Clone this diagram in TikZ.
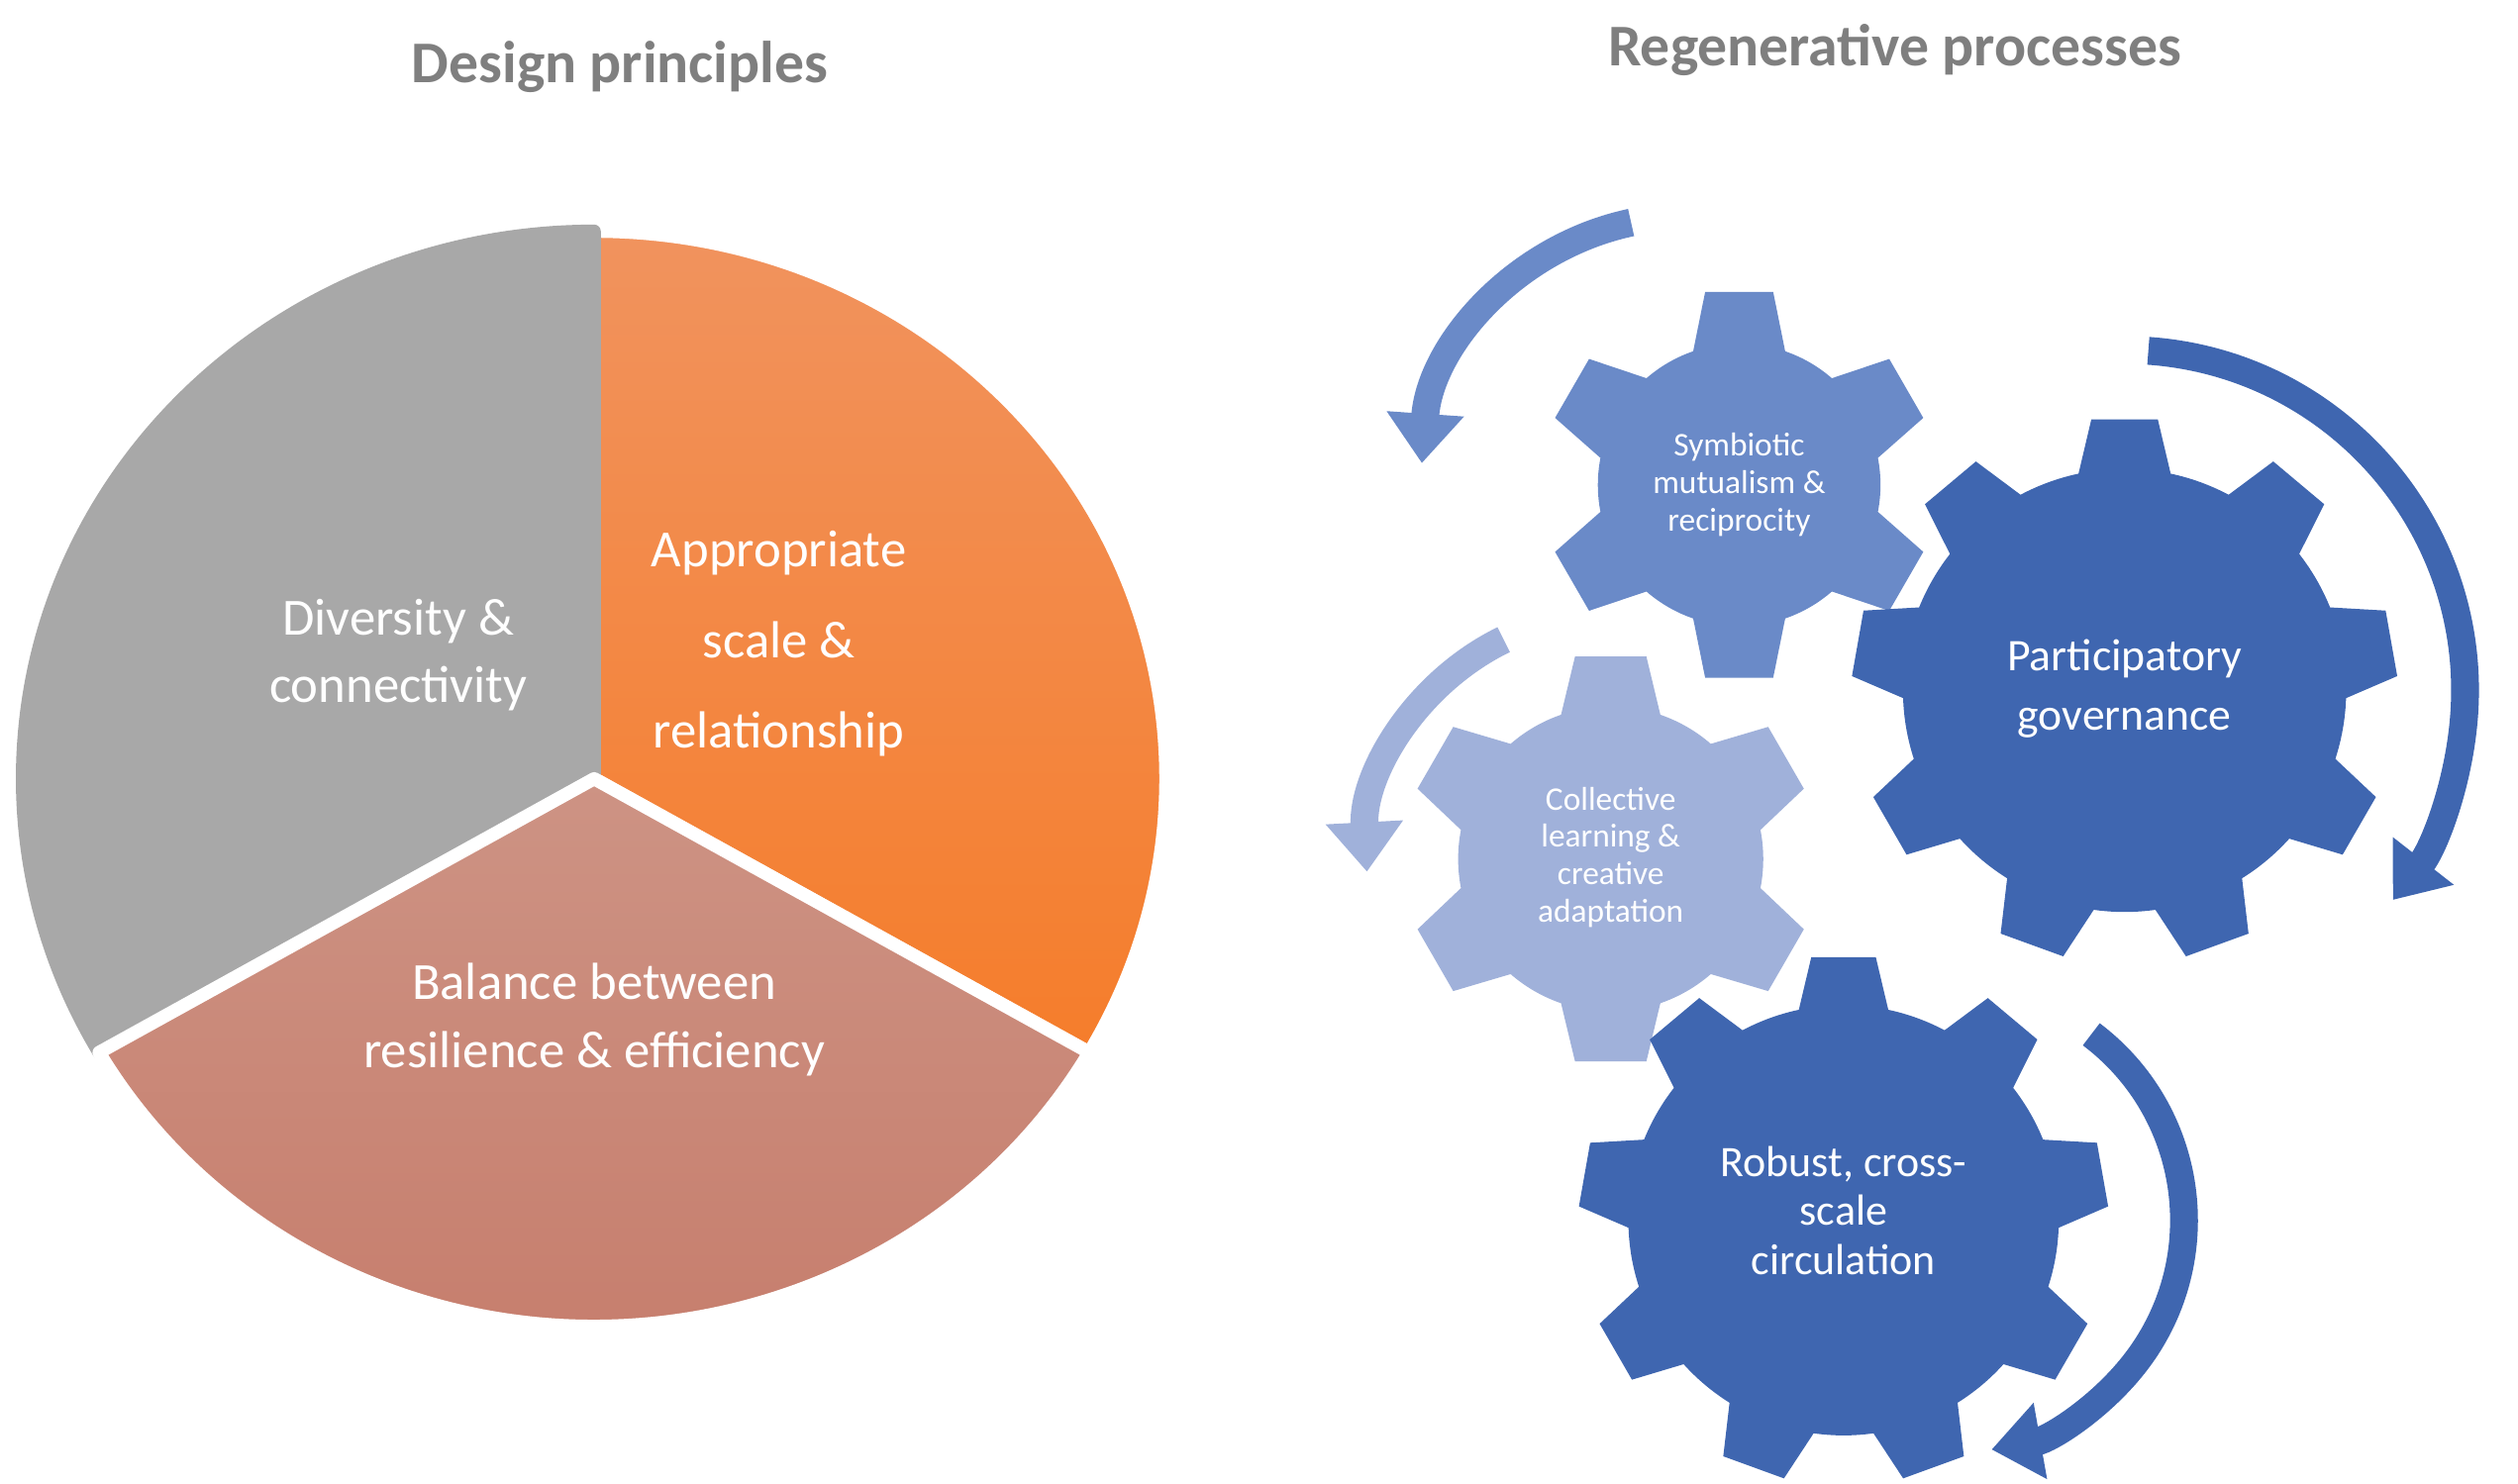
\documentclass[tikz,border=0pt]{standalone}
\usepackage{fontspec}
\setmainfont{Carlito}
\usetikzlibrary{arrows.meta}
\definecolor{piegray}{HTML}{A8A8A8}
\definecolor{orangetop}{HTML}{F1935E}
\definecolor{orangebot}{HTML}{F57D2B}
\definecolor{rosetop}{HTML}{CD9384}
\definecolor{rosebot}{HTML}{C67C6B}
\definecolor{geardark}{HTML}{3F66B0}
\definecolor{gearmid}{HTML}{6A8AC8}
\definecolor{gearlight}{HTML}{A0B1DA}
\definecolor{titlegray}{HTML}{7F7F7F}
\tikzset{
  sector/.style={draw=white,line width=3.8pt,line join=round},
  title/.style={text=titlegray,font=\bfseries\fontsize{17}{20}\selectfont},
  pielabel/.style={text=white,align=center,font=\fontsize{15}{19.5}\selectfont},
  gearbig/.style={text=white,align=center,font=\fontsize{13}{17}\selectfont},
  gearsmall/.style={text=white,align=center,font=\fontsize{9.5}{10.8}\selectfont},
  turn/.style={line width=8pt,-{Triangle[length=0.5cm,width=0.75cm]}}
}
% gear: centre x, centre y, teeth, inner radius, outer radius, colour, base half angle, top half angle
\newcommand{\cog}[8]{%
  \pgfmathsetmacro{\cogstep}{360/#3}
  \begin{scope}[shift={(#1,#2)}]
  \fill[#6] (-90-#7:#4) \foreach \i [evaluate=\i as \a using -90+\i*\cogstep] in {1,...,#3}{
    -- (\a-\cogstep-#8:#5) -- (\a-\cogstep+#8:#5) -- (\a-\cogstep+#7:#4)
    arc[start angle=\a-\cogstep+#7, end angle=\a-#7, radius=#4]} -- cycle;
  \end{scope}}
\begin{document}
\begin{tikzpicture}[x=0.01622cm,y=-0.01622cm]
\useasboundingbox (0,0) rectangle (1568,924);
% pie
\begin{scope}[shift={(370,485)}]
\shade[sector,top color=orangetop,bottom color=orangebot] (0,0) -- (-90:356 and 341) arc[start angle=-90,end angle=30,x radius=356,y radius=341] -- cycle;
\fill[sector,piegray] (0,0) -- (-90:356 and 341) arc[start angle=-90,end angle=-210,x radius=356,y radius=341] -- cycle;
\shade[sector,top color=rosetop,bottom color=rosebot] (0,0) -- (30:356 and 341) arc[start angle=30,end angle=150,x radius=356,y radius=341] -- cycle;
\end{scope}
\node[title] (dp) at (386,42) {Design principles};
\node[title] (rp) at (1180,31) {Regenerative processes};
\node[pielabel] (div) at (248,408) {Diversity \&\\connectivity};
\node[pielabel,font=\fontsize{15}{26}\selectfont] (app) at (485,401) {Appropriate\\scale \&\\relationship};
\node[pielabel] (bal) at (370,635) {Balance between\\resilience \& efficiency};
% gears
\cog{1083}{302}{6}{88}{122}{gearmid}{19}{10}
\cog{1003}{535}{6}{95}{128}{gearlight}{19}{10}
\cog{1323}{430}{9}{138}{170}{geardark}{12}{7}
\cog{1148}{760}{9}{134}{165}{geardark}{12}{7}
\node[gearsmall] (sym) at (1083,302) {Symbiotic\\mutualism \&\\reciprocity};
\node[gearsmall] (col) at (1003,534) {Collective\\learning \&\\creative\\adaptation};
\node[gearbig] (par) at (1323,429) {Participatory\\governance};
\node[gearbig,font=\fontsize{12.5}{14.2}\selectfont] (rob) at (1148,754) {Robust, cross-\\scale\\circulation};
% arrows
\draw[turn,gearmid] (1050,300) ++(-102:165) arc[start angle=-102,end angle=-176,radius=165];
\draw[turn,gearlight] (1003,535) ++(-116:152) arc[start angle=-116,end angle=-183,radius=152];
\draw[turn,geardark] (1323,430) ++(-86:212) arc[start angle=-86,end angle=38,radius=212];
\draw[turn,geardark] (1215,760) ++(-53:145) arc[start angle=-53,end angle=80,radius=145];
\end{tikzpicture}
\end{document}
